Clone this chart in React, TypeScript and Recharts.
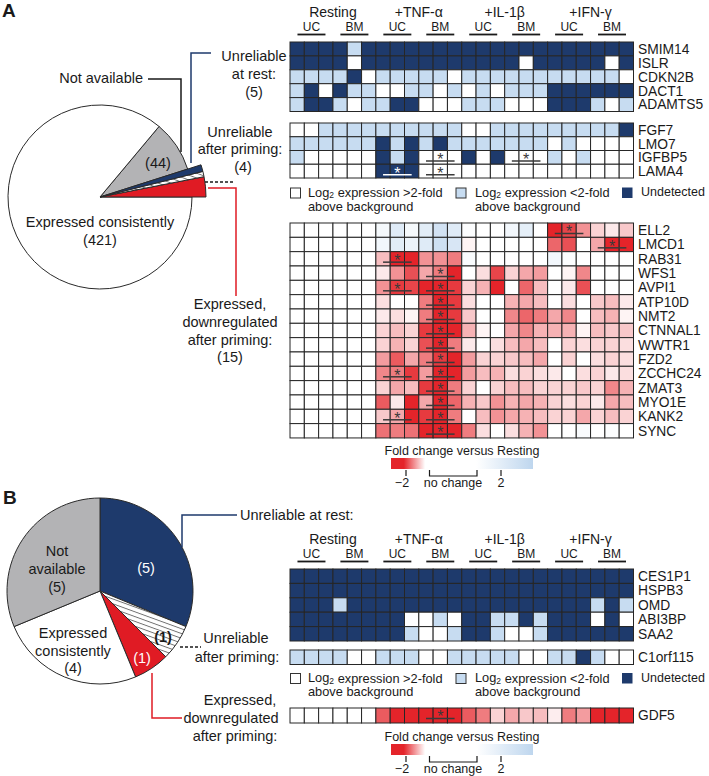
import React from 'react';
import { ScatterChart, Scatter, XAxis, YAxis, PieChart, Pie, Cell } from 'recharts';

const FONT = '"Liberation Sans", Arial, Helvetica, sans-serif';
const INK = '#1a1a1a';
const NAVY = '#1e3a6c';
const LIGHT = '#c7dcf1';
const GRAY = '#b3b3b5';
const RED = '#e01b24';
const RED_RGB = [228, 36, 42];
const BLUE_RGB = [190, 214, 238];

// header of every heatmap
const conditions = ['Resting', '+TNF-α', '+IL-1β', '+IFN-γ'];
const sources = ['UC', 'BM'];

// pie A: genes per category
const pieANames = ['Expressed, downregulated after priming', 'Unreliable after priming', 'Unreliable at rest', 'Not available', 'Expressed consistently'];
const pieAValues = [15, 4, 5, 44, 421];
// pie B
const pieBNames = ['Unreliable at rest', 'Unreliable after priming', 'Expressed, downregulated after priming', 'Expressed consistently', 'Not available'];
const pieBValues = [5, 1, 1, 4, 5];

// W = >2-fold above background, L = <2-fold above background, D = undetected
const restGenesA = ['SMIM14', 'ISLR', 'CDKN2B', 'DACT1', 'ADAMTS5'];
const restRowsA = [
  'DDDDLDDDDDDDDDDDDDDDDDDD',
  'DDDDWDDDDDDDDDDDWDDDDDWD',
  'LLLLDWLLLLLWLLLLLLLLLLLW',
  'LDWDLLWWLLWLWLWLLLDDDDDD',
  'LDDLWLLDDWWWLLLWWWDDDLWL',
];
const primGenesA = ['FGF7', 'LMO7', 'IGFBP5', 'LAMA4'];
const primRowsA = [
  'WWLLLLLLLLLLWWLLLLLLLLLD',
  'LLLLLLDLDLDLLLLLLLWLWWWW',
  'LWWWWWDLDWWWDWDWWWLWLWWW',
  'WWWWWWDDDWWWWWWWWWWWWWWW',
];
const primStarsA = [[2, 10], [2, 16], [3, 7], [3, 10]];

// fold change versus resting
const downGenesA = ['ELL2', 'LMCD1', 'RAB31', 'WFS1', 'AVPI1', 'ATP10D', 'NMT2', 'CTNNAL1', 'WWTR1', 'FZD2', 'ZCCHC24', 'ZMAT3', 'MYO1E', 'KANK2', 'SYNC'];
const downRowsA = [
  [0, 0, 0, 0, 0, 0, 1.15, 1.5, 1.15, 1.45, 1.7, 1.5, 1.05, 0, 0, 1.2, 1.4, 0, -2.3, -1.85, -1.5, -1.2, -1.1, -1.25],
  [0, 0, 0, 0, 0, 0, 1.2, 1.45, 1.3, 1.5, 1.75, 1.6, -1.05, 0, 0, 0, 0, 0, -1.7, -1.8, 0, -1.4, -2.2, -2.1],
  [0, 0, 0, 0, 0, 0, -1.3, -2.1, -2.0, -1.5, -1.5, -1.6, 1.1, 0, 0, 0, 0, 0, 1.2, 1.05, 0, 0, 0, 0],
  [0, 0, 0, 0, 0, 0, -1.1, -1.5, -1.8, -1.4, -1.6, -2.0, 0, -1.15, -1.85, -1.2, -1.4, -1.45, 0, -1.05, -1.55, 0, 0, 0],
  [0, 0, 0, 0, 0, 0, -1.5, -1.9, -1.85, -2.1, -2.2, -1.9, -1.2, -1.35, -2.1, 0, -1.7, -1.3, 0, -1.1, -1.8, 0, 0, 0],
  [0, 0, 0, 0, 0, 0, -1.15, -1.0, 0, -1.6, -2.0, -1.9, -1.15, 0, 0, -1.35, -1.4, -1.3, 0, -1.15, 0, -1.25, -1.3, -1.1],
  [0, 0, 0, 0, 0, 0, -1.1, -1.15, -1.05, -1.6, -2.0, -1.9, -1.25, 0, 0, -1.55, -1.7, -1.6, -1.4, -1.55, 0, -1.3, -1.35, -1.05],
  [0, 0, 0, 0, 0, 0, -1.2, -1.3, -1.2, -1.9, -2.0, -2.0, -1.35, -1.05, 0, -1.4, -1.55, -1.35, -1.35, -1.35, -1.05, -1.3, -1.25, -1.25],
  [0, 0, 0, 0, 0, 0, -1.2, -1.35, -1.2, -1.8, -2.0, -1.6, -1.1, 0, -1.15, -1.3, -1.4, -1.3, 0, -1.2, -1.15, -1.2, -1.2, -1.15],
  [0, 0, 0, 0, 0, 0, -1.45, -1.75, -1.4, -1.6, -1.9, -2.1, -1.45, -1.2, -1.2, -1.25, -1.3, -1.4, 0, -1.2, 0, -1.15, -1.2, -1.15],
  [0, 0, 0, 0, 0, 0, -1.55, -1.6, -1.9, -1.45, -2.0, -2.0, -1.45, -1.3, -1.35, -1.15, -1.2, -1.15, -1.1, 0, -1.15, -1.2, -1.1, -1.15],
  [0, 0, 0, 0, 0, 0, -1.2, -1.4, -1.3, -1.9, -2.1, -1.6, -1.2, 0, -1.2, -1.3, -1.3, -1.2, -1.2, -1.2, -1.25, -1.2, -1.55, -1.35],
  [0, 0, 0, 0, 0, 0, -1.75, -1.1, -2.0, -1.4, -2.0, -1.7, -1.35, -1.25, -1.5, -1.35, -1.4, -1.35, -1.2, -1.15, -1.2, -1.1, -1.4, -1.3],
  [0, 0, 0, 0, 0, 0, -1.25, -1.4, -2.0, -1.9, -2.0, -1.6, 0, -1.3, -1.5, -1.4, -1.35, -1.3, -1.2, -1.2, -1.4, -1.2, -1.3, -1.2],
  [0, 0, 0, 0, 0, 0, -1.65, -1.6, -1.65, -2.0, -2.1, -2.0, -1.6, -1.15, 0, -1.15, -1.35, -1.5, 0, 0, 1.1, 0, 1.05, 0],
];
const downStarsA = [[0, 19], [1, 22], [2, 7], [3, 10], [4, 7], [4, 10], [5, 10], [6, 10], [7, 10], [8, 10], [9, 10], [10, 7], [10, 10], [11, 10], [12, 10], [13, 7], [13, 10], [14, 10]];

const restGenesB = ['CES1P1', 'HSPB3', 'OMD', 'ABI3BP', 'SAA2'];
const restRowsB = [
  'DDDDDDDDDDDDDDDDDDDDDDDD',
  'DDDDDDDDDDDDDDDDDDDDDDDD',
  'DDDLDDDDDDDDDDDDDDDDDLDL',
  'DDDDDDDDWWLWDDLLDLDDDWDW',
  'DDDDDDDDLWWLDDLWWLDDDDDD',
];
const primGenesB = ['C1orf115'];
const primRowsB = ['LLLLWWLLLWWLLLLLWWLLDLWW'];
const downGenesB = ['GDF5'];
const downRowsB = [[0, 0, 0, 0, 0, 0, -1.75, -2.0, -2.0, -2.1, -2.1, -2.0, -1.75, -1.6, -1.2, -1.4, -1.25, -1.3, -1.08, -1.6, -1.45, -2.0, -2.0, -2.0]];
const downStarsB = [[0, 10]];

const GRID_X = 290;
const GRID_W = 343.5;
const NCOL = 24;
const CELL_W = GRID_W / NCOL;
const LABEL_W = 80;
const HEADER_H = 36;

const mix = (c: number[], t: number) => `rgb(${c.map((v) => Math.round(255 + (v - 255) * t)).join(',')})`;
function foldColor(v: number) {
  if (v <= -1) return mix(RED_RGB, Math.min(1, -v - 1));
  if (v >= 1) return mix(BLUE_RGB, Math.min(1, v - 1));
  return '#ffffff';
}
const catColor: Record<string, string> = { W: '#ffffff', L: LIGHT, D: NAVY };

const HeaderTick = (props: any) => {
  const { x, y, payload } = props;
  const k = Math.round((payload.value - 1.5) / 3);
  return (
    <g fontFamily={FONT} fill={INK}>
      <text x={x} y={y - 15.5} textAnchor="middle" dominantBaseline="central" fontSize={12} fill={INK}>{sources[k % 2]}</text>
      <line x1={x - 14} x2={x + 14} y1={y - 7.5} y2={y - 7.5} stroke={INK} strokeWidth={1.8} />
      {k % 2 === 0 && (
        <text x={x + 1.5 * CELL_W} y={y - 30.5} textAnchor="middle" dominantBaseline="central" fontSize={14} fill={INK}>{conditions[k / 2]}</text>
      )}
    </g>
  );
};

function HeatBlock({ top, rowH, genes, rows, kind, stars = [], header = false }: any) {
  const n = genes.length;
  const headH = header ? HEADER_H : 0;
  const cells: any[] = [];
  rows.forEach((row: any, r: number) => {
    for (let c = 0; c < NCOL; c++) cells.push({ x: c + 0.5, y: r + 0.5, v: row[c] });
  });
  const starPts = stars.map(([r, c]: number[]) => ({ x: c + 0.5, y: r + 0.5, dark: kind === 'cat' && rows[r][c] === 'D' }));

  const cellShape = (p: any) => (
    <rect
      x={p.cx - CELL_W / 2}
      y={p.cy - rowH / 2}
      width={CELL_W}
      height={rowH}
      fill={kind === 'cat' ? catColor[p.payload.v] : foldColor(p.payload.v)}
      stroke="#262626"
      strokeWidth={1}
    />
  );
  const starShape = (p: any) => {
    const col = p.payload.dark ? '#ffffff' : '#3a3a3a';
    const t = p.cy - rowH / 2;
    return (
      <g>
        <text x={p.cx} y={t + 14.3} textAnchor="middle" fontSize={16} fill={col} fontFamily={FONT}>*</text>
        <line x1={p.cx - CELL_W} x2={p.cx + CELL_W} y1={t + 10.5} y2={t + 10.5} stroke={col} strokeWidth={1.5} />
      </g>
    );
  };

  return (
    <div style={{ position: 'absolute', left: GRID_X - 1, top: top - headH - 1 }}>
      <ScatterChart width={1 + GRID_W + LABEL_W} height={6 + headH + n * rowH} margin={{ top: 1, right: 0, bottom: 5, left: 1 }}>
        <XAxis
          type="number"
          dataKey="x"
          domain={[0, NCOL]}
          hide={!header}
          orientation="top"
          height={headH}
          ticks={[1.5, 4.5, 7.5, 10.5, 13.5, 16.5, 19.5, 22.5]}
          interval={0}
          tickLine={false}
          axisLine={false}
          tickSize={0}
          tickMargin={0}
          tick={<HeaderTick />}
        />
        <YAxis
          type="number"
          dataKey="y"
          domain={[0, n]}
          reversed
          orientation="right"
          width={LABEL_W}
          ticks={genes.map((_: string, i: number) => i + 0.5)}
          interval={0}
          tickFormatter={(v: number) => genes[Math.floor(v)]}
          tickLine={false}
          axisLine={false}
          tickSize={0}
          tickMargin={4.5}
          tick={{ fontSize: 13.8, fill: INK, fontFamily: FONT }}
        />
        <Scatter data={cells} shape={cellShape} isAnimationActive={false} />
        {starPts.length > 0 && <Scatter data={starPts} shape={starShape} isAnimationActive={false} />}
      </ScatterChart>
    </div>
  );
}

const pieAFills = [RED, 'url(#hatch)', NAVY, GRAY, '#ffffff'];
const pieAOut = [true, true, true, false, false];
const pieBFills = [NAVY, 'url(#hatch)', RED, '#ffffff', GRAY];

function PieA() {
  const data = pieANames.map((name, i) => ({ name, value: pieAValues[i] }));
  return (
    <div style={{ position: 'absolute', left: 0, top: 82 }}>
      <PieChart width={230} height={230} margin={{ top: 0, right: 0, bottom: 0, left: 0 }}>
        <Pie data={data} dataKey="value" cx={100} cy={115} outerRadius={92} startAngle={0} endAngle={360} isAnimationActive={false}>
          {data.map((d, i) => (
            <Cell key={d.name} fill={pieAOut[i] ? 'none' : pieAFills[i]} stroke={pieAOut[i] ? 'none' : '#2a2a2a'} strokeWidth={1} />
          ))}
        </Pie>
        <Pie data={data} dataKey="value" cx={100} cy={115} outerRadius={106} startAngle={0} endAngle={360} isAnimationActive={false}>
          {data.map((d, i) => (
            <Cell key={d.name} fill={pieAOut[i] ? pieAFills[i] : 'none'} stroke={pieAOut[i] ? '#2a2a2a' : 'none'} strokeWidth={1} />
          ))}
        </Pie>
      </PieChart>
    </div>
  );
}

function PieB() {
  const data = pieBNames.map((name, i) => ({ name, value: pieBValues[i] }));
  return (
    <div style={{ position: 'absolute', left: 0, top: 476 }}>
      <PieChart width={230} height={230} margin={{ top: 0, right: 0, bottom: 0, left: 0 }}>
        <Pie data={data} dataKey="value" cx={100} cy={115} outerRadius={93} startAngle={90} endAngle={-270} isAnimationActive={false}>
          {data.map((d, i) => (
            <Cell key={d.name} fill={pieBFills[i]} stroke="#2a2a2a" strokeWidth={1} />
          ))}
        </Pie>
      </PieChart>
    </div>
  );
}

const T = (p: any) => (
  <text
    x={p.x}
    y={p.y}
    textAnchor={p.anchor || 'middle'}
    dominantBaseline="central"
    fontSize={p.size || 14.5}
    fontWeight={p.bold ? 'bold' : 'normal'}
    fill={p.fill || INK}
    fontFamily={FONT}
  >
    {p.children}
  </text>
);

function ExprLegend({ y }: { y: number }) {
  return (
    <g>
      <rect x={290.5} y={y - 4} width={10} height={10} fill="#fff" stroke="#333" strokeWidth={1} />
      <text x={308} y={y} dominantBaseline="central" fontSize={12.8} fill={INK} fontFamily={FONT}>
        Log<tspan fontSize={8.5} dy={3}>2</tspan><tspan dy={-3}> expression &gt;2-fold</tspan>
      </text>
      <T x={308} y={y + 14} anchor="start" size={12.8}>above background</T>
      <rect x={456} y={y - 4} width={10} height={10} fill={LIGHT} stroke="#333" strokeWidth={1} />
      <text x={475} y={y} dominantBaseline="central" fontSize={12.8} fill={INK} fontFamily={FONT}>
        Log<tspan fontSize={8.5} dy={3}>2</tspan><tspan dy={-3}> expression &lt;2-fold</tspan>
      </text>
      <T x={475} y={y + 14} anchor="start" size={12.8}>above background</T>
      <rect x={622} y={y - 4.5} width={10.5} height={10.5} fill={NAVY} />
      <T x={641} y={y} anchor="start" size={12.5}>Undetected</T>
    </g>
  );
}

function FoldLegend({ y }: { y: number }) {
  // y = title centre
  return (
    <g>
      <T x={462} y={y} size={12.5}>Fold change versus Resting</T>
      <rect x={391} y={y + 7} width={142} height={11} fill="url(#foldGrad)" />
      <line x1={406} x2={406} y1={y + 19} y2={y + 25} stroke={INK} strokeWidth={1.2} />
      <line x1={501} x2={501} y1={y + 19} y2={y + 25} stroke={INK} strokeWidth={1.2} />
      <path d={`M429.5 ${y + 19} V${y + 25} H477 V${y + 19}`} fill="none" stroke={INK} strokeWidth={1.2} />
      <T x={402} y={y + 32} size={12.5}>−2</T>
      <T x={453} y={y + 32} size={12.5}>no change</T>
      <T x={501} y={y + 32} size={12.5}>2</T>
    </g>
  );
}

function Overlay() {
  return (
    <svg width={709} height={776} style={{ position: 'absolute', left: 0, top: 0, pointerEvents: 'none' }}>
      <text x={2} y={17} fontSize={19} fontWeight="bold" fill={INK} fontFamily={FONT}>A</text>
      <text x={3} y={504} fontSize={19} fontWeight="bold" fill={INK} fontFamily={FONT}>B</text>

      {/* pie A labels */}
      <T x={158} y={163}>{`(${pieAValues[3]})`}</T>
      <T x={100} y={222}>Expressed consistently</T>
      <T x={100} y={240}>{`(${pieAValues[4]})`}</T>
      <T x={143} y={78} anchor="end">Not available</T>
      <polyline points="148,79 181,79 181,152" fill="none" stroke={INK} strokeWidth={1.5} />
      <polyline points="211,53 191,53 191,163" fill="none" stroke={NAVY} strokeWidth={1.5} />
      <T x={254} y={56}>Unreliable</T>
      <T x={254} y={74}>at rest:</T>
      <T x={254} y={92}>{`(${pieAValues[2]})`}</T>
      <T x={240} y={132}>Unreliable</T>
      <T x={240} y={149}>after priming:</T>
      <T x={243} y={167}>{`(${pieAValues[1]})`}</T>
      <line x1={205} x2={234} y1={182} y2={182} stroke={INK} strokeWidth={1.5} strokeDasharray="3 2" />
      <polyline points="208,188 236,188 236,296" fill="none" stroke={RED} strokeWidth={1.5} />
      <T x={230} y={304}>Expressed,</T>
      <T x={230} y={322}>downregulated</T>
      <T x={230} y={340}>after priming:</T>
      <T x={230} y={357}>{`(${pieAValues[0]})`}</T>

      <ExprLegend y={192} />
      <FoldLegend y={451} />

      {/* pie B labels */}
      <T x={146} y={568} fill="#fff">{`(${pieBValues[0]})`}</T>
      <T x={57} y={551}>Not</T>
      <T x={57} y={569}>available</T>
      <T x={57} y={587}>{`(${pieBValues[4]})`}</T>
      <T x={73} y={633}>Expressed</T>
      <T x={73} y={651}>consistently</T>
      <T x={73} y={668}>{`(${pieBValues[3]})`}</T>
      <T x={163} y={637} bold>{`(${pieBValues[1]})`}</T>
      <T x={142} y={658} fill="#fff">{`(${pieBValues[2]})`}</T>
      <T x={240} y={515} anchor="start">Unreliable at rest:</T>
      <polyline points="237,515 182,515 182,547" fill="none" stroke={NAVY} strokeWidth={1.5} />
      <T x={236} y={638}>Unreliable</T>
      <T x={237} y={657}>after priming:</T>
      <line x1={180} x2={201} y1={647} y2={647} stroke={INK} strokeWidth={1.5} strokeDasharray="3 2" />
      <polyline points="152,673 152,718 182,718" fill="none" stroke={RED} strokeWidth={1.5} />
      <T x={240} y={700}>Expressed,</T>
      <T x={231} y={718}>downregulated</T>
      <T x={235} y={736}>after priming:</T>

      <ExprLegend y={677.5} />
      <FoldLegend y={737} />
    </svg>
  );
}

export default function App() {
  return (
    <div style={{ position: 'absolute', left: 0, top: 0, width: 709, height: 776, background: '#fff', fontFamily: FONT }}>
      <svg width={0} height={0} style={{ position: 'absolute' }}>
        <defs>
          <pattern id="hatch" patternUnits="userSpaceOnUse" width={4.5} height={4.5} patternTransform="rotate(20)">
            <rect width={4.5} height={4.5} fill="#fff" />
            <line x1={0} y1={0.5} x2={4.5} y2={0.5} stroke="#555" strokeWidth={0.8} />
          </pattern>
          <linearGradient id="foldGrad" x1="0" x2="1" y1="0" y2="0">
            <stop offset="0" stopColor="rgb(228,36,42)" />
            <stop offset="0.09" stopColor="rgb(228,36,42)" />
            <stop offset="0.24" stopColor="#ffffff" />
            <stop offset="0.6" stopColor="#ffffff" />
            <stop offset="1" stopColor="rgb(190,214,238)" />
          </linearGradient>
        </defs>
      </svg>
      <PieA />
      <PieB />
      <HeatBlock top={42} rowH={13.9} genes={restGenesA} rows={restRowsA} kind="cat" header />
      <HeatBlock top={123} rowH={13.75} genes={primGenesA} rows={primRowsA} kind="cat" stars={primStarsA} />
      <HeatBlock top={223} rowH={14.33} genes={downGenesA} rows={downRowsA} kind="fold" stars={downStarsA} />
      <HeatBlock top={569} rowH={14.4} genes={restGenesB} rows={restRowsB} kind="cat" header />
      <HeatBlock top={649.5} rowH={14.5} genes={primGenesB} rows={primRowsB} kind="cat" />
      <HeatBlock top={708} rowH={15} genes={downGenesB} rows={downRowsB} kind="fold" stars={downStarsB} />
      <Overlay />
    </div>
  );
}
